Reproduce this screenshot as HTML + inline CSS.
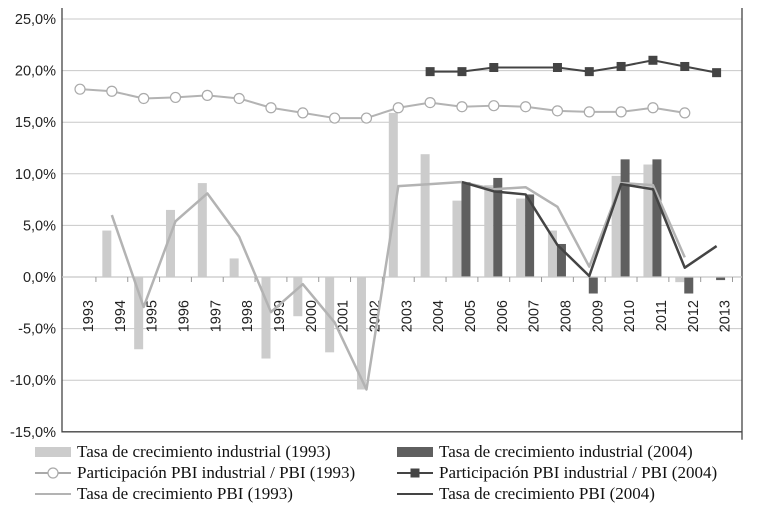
<!DOCTYPE html>
<html><head><meta charset="utf-8"><style>
body{margin:0;background:#fff;}
svg{display:block;font-family:"Liberation Sans",sans-serif;}
.leg{font-family:"Liberation Serif",serif;font-size:17px;fill:#111;}
</style></head><body>
<svg id="c" width="758" height="509"></svg>
<script>
const years=["1993","1994","1995","1996","1997","1998","1999","2000","2001","2002","2003","2004","2005","2006","2007","2008","2009","2010","2011","2012","2013"];
const indGrowth93=[null,4.5,-7.0,6.5,9.1,1.8,-7.9,-3.8,-7.3,-10.9,15.9,11.9,7.4,8.9,7.6,4.5,null,9.8,10.9,-0.5,null];
const indGrowth04=[null,null,null,null,null,null,null,null,null,null,null,null,9.2,9.6,8.0,3.2,-1.6,11.4,11.4,-1.6,-0.3];
const share93=[18.2,18.0,17.3,17.4,17.6,17.3,16.4,15.9,15.4,15.4,16.4,16.9,16.5,16.6,16.5,16.1,16.0,16.0,16.4,15.9,null];
const share04=[null,null,null,null,null,null,null,null,null,null,null,19.9,19.9,20.3,20.3,20.3,19.9,20.4,21.0,20.4,19.8];
const gdp93=[null,6.0,-2.9,5.4,8.1,3.9,-3.4,-0.7,-4.4,-10.9,8.8,9.0,9.2,8.5,8.7,6.8,1.0,9.1,8.9,1.9,null];
const gdp04=[null,null,null,null,null,null,null,null,null,null,null,null,9.2,8.3,8.0,3.1,0.1,9.0,8.5,0.9,3.0];
const yTicks=[25,20,15,10,5,0,-5,-10,-15];
const yLabels=["25,0%","20,0%","15,0%","10,0%","5,0%","0,0%","-5,0%","-10,0%","-15,0%"];

const NS="http://www.w3.org/2000/svg";
const svg=document.getElementById('c');
function mk(t,a,p){const e=document.createElementNS(NS,t);for(const k in a)e.setAttribute(k,a[k]);(p||svg).appendChild(e);return e;}
const step=31.83, x0=80;
const X=i=>x0+step*i;
const Y=v=>277-(v)*10.32;
const L=62,R=742,T=8,B=Y(-15);

yTicks.forEach((v,i)=>{
  if(v!==-15){const g=mk('line',{x1:L,x2:R,y1:Y(v),y2:Y(v),stroke:'#c8c8c8','stroke-width':1});
  
  }
  const t=mk('text',{x:56,y:Y(v)+5,'text-anchor':'end','font-size':14.5,fill:'#222'});
  t.textContent=yLabels[i];
  
  
});
const ax=mk('path',{d:`M${L},${T}V${B}H${R}M${R},${T}V${B+8}`,stroke:'#444',fill:'none','stroke-width':1.3});



function bars(arr,off,col,name){
  arr.forEach((v,i)=>{ if(v==null) return;
    const y1=Y(Math.max(v,0)),y2=Y(Math.min(v,0));
    const r=mk('rect',{x:X(i)+off,y:y1,width:9,height:Math.max(y2-y1,1.5),fill:col});
    
    
  });
}
bars(indGrowth93,-9.5,'#cccccc','bar-industrial-1993');
bars(indGrowth04,-0.5,'#5f5f5f','bar-industrial-2004');

const z=mk('line',{x1:L,x2:R,y1:Y(0),y2:Y(0),stroke:'#c8c8c8','stroke-width':1.2});


years.forEach((yr,i)=>{
  const bx=X(i)+step/2;
  const tk=mk('line',{x1:bx,x2:bx,y1:Y(0),y2:Y(0)+5,stroke:'#999'});
  
  
  const lx=X(i)+13;
  const t=mk('text',{x:lx,y:300,'text-anchor':'end','font-size':14.5,fill:'#222',transform:`rotate(-90 ${lx} 300)`});
  t.textContent=yr;
  
  
});

function line(arr,col,w,name){
  let d='';let pen=false;
  arr.forEach((v,i)=>{ if(v==null){pen=false;return;} d+=(pen?'L':'M')+X(i)+','+Y(v);pen=true;});
  const p=mk('path',{d,stroke:col,'stroke-width':w,fill:'none','stroke-linejoin':'round'});
  
  
}
line(gdp93,'#b3b3b3',2.5,'line-gdp-growth-1993');
line(gdp04,'#444444',2.5,'line-gdp-growth-2004');
line(share93,'#b3b3b3',2,'line-industrial-share-1993');
line(share04,'#444444',2,'line-industrial-share-2004');
share93.forEach((v,i)=>{ if(v==null)return;
  const c=mk('circle',{cx:X(i),cy:Y(v),r:5,fill:'#fff',stroke:'#aaa','stroke-width':1.2});
  
  
});
share04.forEach((v,i)=>{ if(v==null||i===14)return;
  const s=mk('rect',{x:X(i)-4.5,y:Y(v)-4.5,width:9,height:9,fill:'#444'});
  
  
});

const leg=[
 [35,452,'bar','#cccccc','Tasa de crecimiento industrial (1993)'],
 [397,452,'bar','#5f5f5f','Tasa de crecimiento industrial (2004)'],
 [35,473,'circ','#aaa','Participación PBI industrial / PBI (1993)'],
 [397,473,'sq','#444','Participación PBI industrial / PBI (2004)'],
 [35,494,'line','#b3b3b3','Tasa de crecimiento PBI (1993)'],
 [397,494,'line','#444','Tasa de crecimiento PBI (2004)']];
leg.forEach(([x,y,k,c,txt])=>{
  const g=mk('g',{});
  
  
  if(k==='bar') mk('rect',{x:x,y:y-5,width:36,height:10,fill:c},g);
  else {
    mk('line',{x1:x,x2:x+36,y1:y,y2:y,stroke:c,'stroke-width':2},g);
    if(k==='circ') mk('circle',{cx:x+18,cy:y,r:5,fill:'#fff',stroke:c,'stroke-width':1.2},g);
    if(k==='sq') mk('rect',{x:x+13.5,y:y-4.5,width:9,height:9,fill:c},g);
  }
  const t=mk('text',{x:x+42,y:y+5,class:'leg'},g);
  t.textContent=txt;
});
</script>
</body></html>
